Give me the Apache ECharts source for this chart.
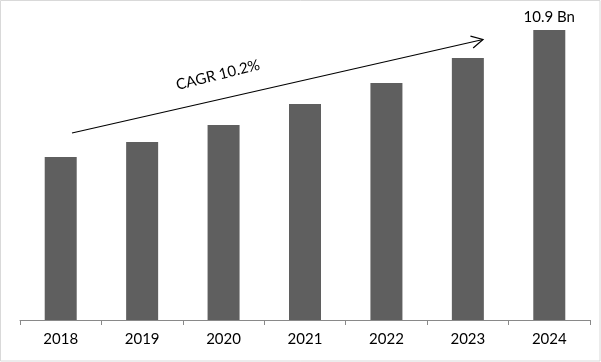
<!DOCTYPE html>
<html>
<head>
<meta charset="utf-8">
<script src="https://cdn.jsdelivr.net/npm/echarts@6/dist/echarts.min.js"></script>
<style>html,body{margin:0;padding:0;background:#fff;}#c{width:601px;height:362px;}</style>
</head>
<body>
<div id="c"></div>
<script>
var years = ['2018','2019','2020','2021','2022','2023','2024'];
var values = [6.13, 6.69, 7.33, 8.12, 8.91, 9.85, 10.9];
var lastLabel = '10.9 Bn';
var cagrText = 'CAGR 10.2%';

var chart = echarts.init(document.getElementById('c'), null, {renderer: 'canvas'});
var font = 'Lato';

var data = values.map(function (v, i) {
  if (i === values.length - 1) {
    return {value: v, label: {show: true, position: 'top', distance: 5, formatter: lastLabel,
      color: '#000', fontSize: 15, fontFamily: font}};
  }
  return v;
});

// arrow annotation (pixel geometry)
var a0 = [72, 133], a1 = [483, 39.5];
var dx = a0[0] - a1[0], dy = a0[1] - a1[1];
var len = Math.sqrt(dx * dx + dy * dy);
var ux = dx / len, uy = dy / len;
var ah = 13, ang = 28 * Math.PI / 180;
function rot(x, y, t) { return [x * Math.cos(t) - y * Math.sin(t), x * Math.sin(t) + y * Math.cos(t)]; }
var r1 = rot(ux, uy, ang), r2 = rot(ux, uy, -ang);
var arm1 = [a1[0] + r1[0] * ah, a1[1] + r1[1] * ah];
var arm2 = [a1[0] + r2[0] * ah, a1[1] + r2[1] * ah];

chart.setOption({
  animation: false,
  backgroundColor: '#fff',
  grid: {left: 20, right: 11, top: 14, bottom: 42},
  xAxis: {
    type: 'category',
    data: years,
    axisLine: {lineStyle: {color: '#898989', width: 1}},
    axisTick: {show: true, length: 5, lineStyle: {color: '#898989'}},
    axisLabel: {color: '#000', fontSize: 15, fontFamily: font, margin: 12}
  },
  yAxis: {type: 'value', min: 0, max: 11.5, show: false, splitLine: {show: false}},
  series: [{
    type: 'bar',
    data: data,
    barWidth: 32,
    itemStyle: {color: '#5f5f5f'}
  }],
  graphic: [
    {type: 'rect', shape: {x: 0.5, y: 0.5, width: 599.5, height: 360.5},
      style: {fill: 'none', stroke: '#d9d9d9', lineWidth: 1}, silent: true},
    {type: 'line', shape: {x1: a0[0], y1: a0[1], x2: a1[0], y2: a1[1]},
      style: {stroke: '#000', lineWidth: 1.2}},
    {type: 'polyline', shape: {points: [arm1, a1, arm2]},
      style: {stroke: '#000', lineWidth: 1.2, fill: 'none'}},
    {type: 'text', x: 218, y: 75, rotation: 14 * Math.PI / 180,
      style: {text: cagrText, fontSize: 15, fontFamily: font, fill: '#000',
        align: 'center', verticalAlign: 'middle'}}
  ]
});
</script>
</body>
</html>
